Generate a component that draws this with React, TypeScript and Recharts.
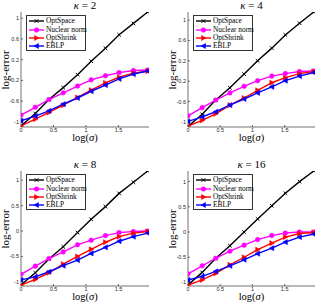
import { LineChart, Line, XAxis, YAxis } from "recharts"

const xs = [0, 0.22, 0.43, 0.65, 0.87, 1.08, 1.3, 1.51, 1.73, 1.95]
const xTicks = [0, 0.5, 1, 1.5]
const fineTicks = [-1, -0.8, -0.6, -0.4, -0.2, 0, 0.2, 0.4, 0.6, 0.8, 1]
const coarseTicks = [-1, -0.5, 0, 0.5, 1]

const kappas = [2, 4, 8, 16]

const optSpace2 = [-1.08, -0.84, -0.57, -0.34, -0.09, 0.17, 0.42, 0.68, 0.9, 1.12]
const nuclear2 = [-0.87, -0.72, -0.57, -0.44, -0.31, -0.19, -0.11, -0.05, -0.01, 0]
const optShrink2 = [-1.08, -0.95, -0.82, -0.68, -0.53, -0.39, -0.25, -0.14, -0.06, -0.02]
const eblp2 = [-0.98, -0.89, -0.79, -0.66, -0.54, -0.41, -0.29, -0.17, -0.08, -0.02]

const optSpace4 = [-1.09, -0.85, -0.57, -0.33, -0.06, 0.2, 0.45, 0.71, 0.94, 1.16]
const nuclear4 = [-0.88, -0.72, -0.57, -0.43, -0.3, -0.19, -0.1, -0.05, -0.01, 0]
const optShrink4 = [-1.08, -0.97, -0.84, -0.67, -0.53, -0.38, -0.23, -0.13, -0.05, -0.01]
const eblp4 = [-0.99, -0.9, -0.8, -0.67, -0.55, -0.43, -0.31, -0.19, -0.1, -0.03]

const optSpace8 = [-1.06, -0.82, -0.55, -0.31, -0.03, 0.23, 0.48, 0.74, 0.96, 1.18]
const nuclear8 = [-0.85, -0.69, -0.54, -0.41, -0.27, -0.18, -0.09, -0.03, -0.01, 0]
const optShrink8 = [-1.06, -0.95, -0.82, -0.65, -0.5, -0.36, -0.22, -0.11, -0.04, -0.01]
const eblp8 = [-0.96, -0.9, -0.8, -0.68, -0.57, -0.44, -0.32, -0.2, -0.11, -0.04]

const optSpace16 = [-1.05, -0.8, -0.52, -0.27, 0, 0.26, 0.52, 0.77, 1.0, 1.21]
const nuclear16 = [-0.83, -0.67, -0.52, -0.38, -0.26, -0.15, -0.07, -0.02, 0, 0]
const optShrink16 = [-1.05, -0.95, -0.82, -0.65, -0.5, -0.35, -0.22, -0.1, -0.03, -0.01]
const eblp16 = [-0.95, -0.88, -0.78, -0.67, -0.55, -0.43, -0.32, -0.2, -0.1, -0.04]

const seriesNames = ["OptSpace", "Nuclear norm", "OptShrink", "EBLP"]
const seriesColors = ["#000000", "#ff00ff", "#ff0000", "#0000ff"]

const SERIF = "'Liberation Serif', 'DejaVu Serif', serif"
const AXIS = "#333333"

function build(a: number[], b: number[], c: number[], d: number[]) {
  return xs.map((x, i) => ({ x, s0: a[i], s1: b[i], s2: c[i], s3: d[i] }))
}

const datasets = [
  build(optSpace2, nuclear2, optShrink2, eblp2),
  build(optSpace4, nuclear4, optShrink4, eblp4),
  build(optSpace8, nuclear8, optShrink8, eblp8),
  build(optSpace16, nuclear16, optShrink16, eblp16)
]

const panels = [
  { left: 21, top: 12, w: 128, h: 115, domain: [-1.1, 1.12], ticks: fineTicks, lab: 5 },
  { left: 188, top: 12, w: 127, h: 115, domain: [-1.1, 1.16], ticks: fineTicks, lab: 5 },
  { left: 21, top: 171, w: 128, h: 115, domain: [-1.08, 1.18], ticks: coarseTicks, lab: 4.5 },
  { left: 188, top: 171, w: 127, h: 115, domain: [-1.07, 1.21], ticks: coarseTicks, lab: 4.5 }
]

function Marker({ kind, cx, cy, color }: { kind: number; cx: number; cy: number; color: string }) {
  if (cx == null || cy == null) return null
  if (kind === 0) {
    return (
      <g stroke={color} strokeWidth={1}>
        <line x1={cx - 1.8} y1={cy - 1.8} x2={cx + 1.8} y2={cy + 1.8} />
        <line x1={cx - 1.8} y1={cy + 1.8} x2={cx + 1.8} y2={cy - 1.8} />
      </g>
    )
  }
  if (kind === 1) return <circle cx={cx} cy={cy} r={2.3} fill={color} stroke={color} strokeWidth={0.5} />
  if (kind === 2) {
    return <polygon points={`${cx + 2.6},${cy} ${cx - 2},${cy - 2.6} ${cx - 2},${cy + 2.6}`} fill={color} stroke={color} strokeWidth={0.5} />
  }
  return <polygon points={`${cx - 2.6},${cy} ${cx + 2},${cy - 2.6} ${cx + 2},${cy + 2.6}`} fill={color} stroke={color} strokeWidth={0.5} />
}

function LegendBox({ left, top }: { left: number; top: number }) {
  return (
    <div
      style={{
        position: "absolute",
        left,
        top,
        width: 60,
        height: 36,
        border: `0.7px solid ${AXIS}`,
        background: "#fff",
        boxSizing: "border-box",
        padding: "1px 0 0 1px"
      }}
    >
      {seriesNames.map((name, i) => (
        <div key={name} style={{ display: "flex", alignItems: "center", height: 8.4 }}>
          <svg width={17} height={8} style={{ flex: "none" }}>
            <line x1={1} y1={4} x2={16} y2={4} stroke={seriesColors[i]} strokeWidth={1.4} />
            <Marker kind={i} cx={8.5} cy={4} color={seriesColors[i]} />
          </svg>
          <span style={{ fontFamily: SERIF, fontSize: 7.4, lineHeight: "8px", color: "#000", marginLeft: 1, whiteSpace: "nowrap" }}>
            {name}
          </span>
        </div>
      ))}
    </div>
  )
}

function Panel({ idx }: { idx: number }) {
  const p = panels[idx]
  const yw = 24
  const xh = 10
  const mt = 3
  const mr = 3
  const chartW = yw + p.w + mr
  const chartH = mt + p.h + xh
  const tickStyle = { fontSize: 5.5, fill: "#262626", fontFamily: "'Liberation Sans', Arial, sans-serif" }
  const cx = p.left + p.w / 2
  const cy = p.top + p.h / 2

  return (
    <>
      <LineChart
        width={chartW}
        height={chartH}
        data={datasets[idx]}
        margin={{ top: mt, right: mr, bottom: 0, left: 0 }}
        style={{ position: "absolute", left: p.left - yw, top: p.top - mt }}
      >
        <XAxis
          type="number"
          dataKey="x"
          domain={[0, 1.97]}
          ticks={xTicks}
          height={xh}
          tick={tickStyle}
          tickSize={-2}
          tickMargin={2.8}
          stroke={AXIS}
          strokeWidth={0.7}
          allowDataOverflow
        />
        <XAxis
          xAxisId="top"
          orientation="top"
          type="number"
          dataKey="x"
          domain={[0, 1.97]}
          ticks={xTicks}
          height={0}
          tickFormatter={() => ""}
          tickSize={-2}
          stroke={AXIS}
          strokeWidth={0.7}
          allowDataOverflow
        />
        <YAxis
          type="number"
          domain={p.domain}
          ticks={p.ticks}
          width={yw}
          tick={tickStyle}
          tickSize={-2}
          tickMargin={4}
          stroke={AXIS}
          strokeWidth={0.7}
          allowDataOverflow
        />
        <YAxis
          yAxisId="right"
          orientation="right"
          type="number"
          domain={p.domain}
          ticks={p.ticks}
          width={0}
          tickFormatter={() => ""}
          tickSize={-2}
          stroke={AXIS}
          strokeWidth={0.7}
          allowDataOverflow
        />
        {seriesNames.map((name, i) => (
          <Line
            key={name}
            dataKey={`s${i}`}
            name={name}
            type="linear"
            stroke={seriesColors[i]}
            strokeWidth={1.4}
            isAnimationActive={false}
            dot={(d: any) => <Marker key={`${name}-${d.index}`} kind={i} cx={d.cx} cy={d.cy} color={seriesColors[i]} />}
            activeDot={false}
          />
        ))}
      </LineChart>

      <LegendBox left={p.left + 5} top={p.top + 3} />

      <div
        style={{
          position: "absolute",
          left: cx - 40,
          width: 80,
          top: p.top - 13,
          textAlign: "center",
          fontFamily: SERIF,
          fontSize: 11,
          lineHeight: "12px",
          color: "#000"
        }}
      >
        <i>κ</i> = {kappas[idx]}
      </div>

      <div
        style={{
          position: "absolute",
          left: cx - 40,
          width: 80,
          top: p.top + p.h + p.lab,
          textAlign: "center",
          fontFamily: SERIF,
          fontSize: 10.5,
          lineHeight: "11px",
          color: "#000"
        }}
      >
        log(<i>σ</i>)
      </div>

      <div
        style={{
          position: "absolute",
          left: p.left - 16 - 40,
          width: 80,
          top: cy - 6,
          textAlign: "center",
          fontFamily: SERIF,
          fontSize: 11,
          lineHeight: "12px",
          color: "#000",
          transform: "rotate(-90deg)"
        }}
      >
        log-error
      </div>
    </>
  )
}

export default function App() {
  return (
    <div style={{ position: "absolute", left: 0, top: 0, width: 318, height: 303, background: "#fff", overflow: "hidden" }}>
      {panels.map((_, i) => (
        <Panel key={i} idx={i} />
      ))}
    </div>
  )
}
